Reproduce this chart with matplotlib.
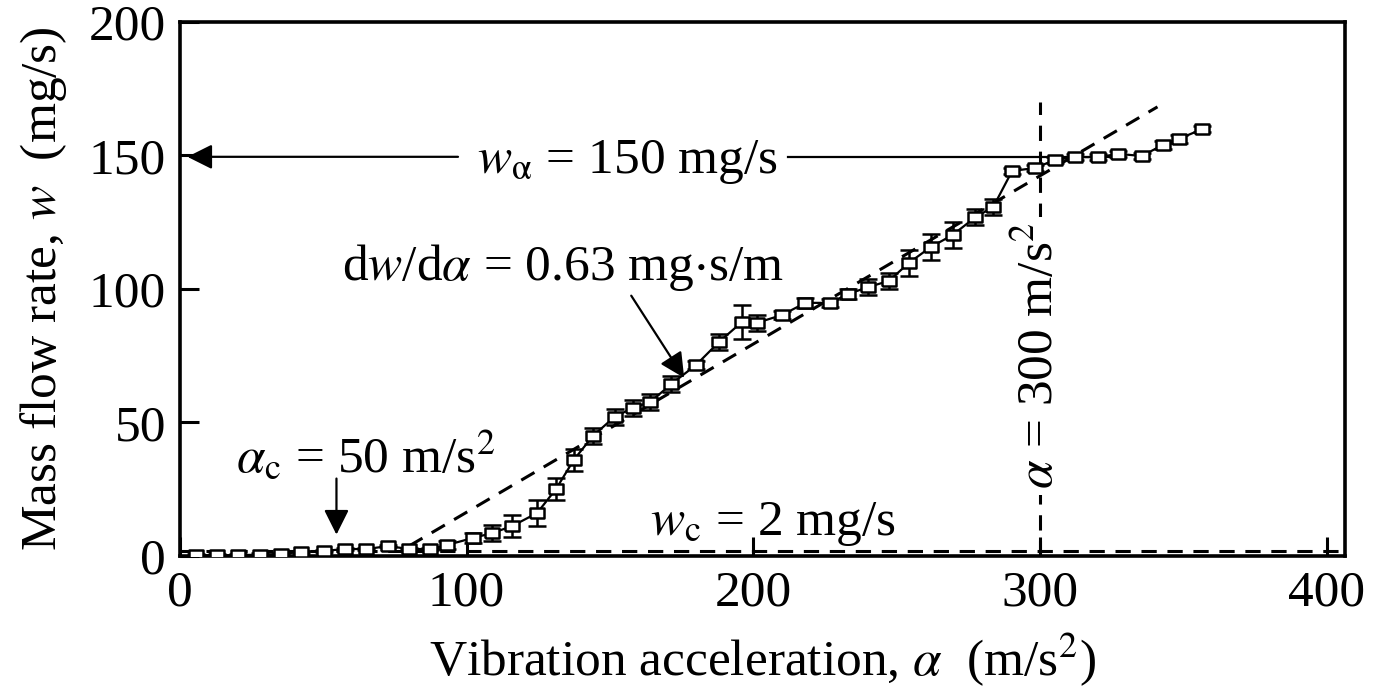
"""
Mass flow rate vs vibration acceleration, with threshold and slope annotations.
Writes out.png.
"""

import matplotlib
matplotlib.use("Agg")
import matplotlib.pyplot as plt
import numpy as np

plt.rcParams.update({
    "font.family": "Liberation Serif",
    "mathtext.fontset": "stix",
    "font.size": 37,
    "axes.linewidth": 2.6,
})

accel = [5.7, 13.0, 20.3, 28.0, 35.2, 42.4, 50.1, 57.7, 65.0, 72.6,
         80.0, 87.2, 93.1, 102.1, 109.0, 115.9, 124.6, 131.2, 137.4, 144.0,
         151.6, 157.9, 164.1, 171.4, 180.0, 188.0, 196.0, 201.2, 209.9, 218.2,
         226.8, 233.1, 240.0, 247.3, 254.2, 261.9, 269.5, 277.5, 283.7, 290.3,
         298.2, 305.2, 312.1, 320.4, 327.4, 335.5, 342.8, 348.4, 356.7]
flow = [0.3, 0.3, 0.3, 0.5, 0.8, 1.5, 1.9, 2.6, 2.6, 3.7,
        2.6, 2.6, 4.1, 6.7, 8.6, 11.2, 16.1, 25.1, 36.0, 44.9,
        52.1, 55.4, 57.7, 64.4, 71.5, 80.1, 87.6, 87.3, 90.2, 94.8,
        94.8, 98.1, 100.7, 103.0, 109.7, 115.7, 120.2, 126.9, 130.7, 144.2,
        145.3, 148.3, 149.4, 149.4, 150.6, 149.8, 153.9, 156.2, 159.9]
flow_err = [0.5, 0.5, 0.5, 0.5, 0.5, 0.5, 0.5, 0.5, 0.5, 0.5,
            0.5, 0.5, 1.5, 2.0, 3.0, 4.0, 5.0, 4.0, 4.0, 3.0,
            3.0, 3.0, 3.0, 3.0, 1.5, 3.0, 6.5, 3.0, 1.5, 2.0,
            1.5, 2.0, 3.0, 3.0, 5.0, 5.0, 5.0, 3.0, 3.0, 1.0,
            1.0, 1.0, 1.0, 1.0, 1.0, 1.0, 1.5, 1.5, 1.0]

# linear fit segment, dw/da = 0.63
fit_x = [80, 341]
fit_slope = 0.63
fit_x0 = 74

W_C = 2          # critical flow, mg/s
W_ALPHA = 149.5  # flow at alpha = 300
ALPHA_MARK = 300
ALPHA_C_ARROW = 54.6

DASH = dict(color="black", lw=2.2, dashes=(5, 3.5), zorder=2)
ARROW = dict(arrowstyle="-|>", color="black", lw=1.6, mutation_scale=38,
             shrinkA=0, shrinkB=0)

fig = plt.figure(figsize=(13.82, 6.91), dpi=100)
ax = fig.add_axes([0.1302, 0.1954, 0.8430, 0.7728])

rect = [(-1, -0.72), (1, -0.72), (1, 0.72), (-1, 0.72), (-1, -0.72)]
ax.errorbar(accel, flow, yerr=flow_err, fmt="-", color="black", lw=1.6,
            marker=rect, ms=10.5, mfc="white", mec="black", mew=1.8,
            ecolor="black", elinewidth=1.8, capsize=6.5, capthick=1.8,
            zorder=3)

fx = np.array(fit_x, dtype=float)
ax.plot(fx, fit_slope * (fx - fit_x0), ls="--", **DASH)

# w_c baseline
ax.axhline(W_C, ls="--", **DASH)

# alpha = 300 marker
ax.plot([ALPHA_MARK, ALPHA_MARK], [0, 170], ls="--", **DASH)
ax.text(ALPHA_MARK, 75, r"$\alpha$ = 300 m/s$^2$", rotation=90,
        ha="center", va="center", zorder=4,
        bbox=dict(facecolor="white", edgecolor="none", pad=4))

# w_alpha = 150
ax.annotate("", xy=(2.6, W_ALPHA), xytext=(97, W_ALPHA), arrowprops=ARROW)
ax.plot([212, 324], [W_ALPHA, W_ALPHA], color="black", lw=1.6)
ax.text(156, 143.5, r"$w_{\mathrm{\alpha}}$ = 150 mg/s", ha="center",
        va="baseline")

# slope
ax.annotate(r"d$w$/d$\alpha$ = 0.63 mg$\cdot$s/m", xy=(175.9, 66.7),
            xytext=(133.7, 103.4), ha="center", va="baseline",
            arrowprops=dict(ARROW, relpos=(0.65, 0)))

# alpha_c
ax.annotate("", xy=(ALPHA_C_ARROW, 8), xytext=(ALPHA_C_ARROW, 29),
            arrowprops=ARROW)
ax.text(65, 31.5, r"$\alpha_{\mathrm{c}}$ = 50 m/s$^2$", ha="center",
        va="baseline")

ax.text(207, 8, r"$w_{\mathrm{c}}$ = 2 mg/s", ha="center", va="baseline")

ax.set_xlim(2.6, 406.4)
ax.set_ylim(0, 200)
ax.set_xticks([0, 100, 200, 300, 400])
ax.set_yticks([0, 50, 100, 150, 200])
ax.tick_params(direction="in", length=14, width=2.2, pad=10)
ax.set_xlabel(r"Vibration acceleration, $\alpha$  (m/s$^2$)", labelpad=10)
ax.set_ylabel(r"Mass flow rate, $w$  (mg/s)", labelpad=14)

fig.savefig("out.png", dpi=100)
